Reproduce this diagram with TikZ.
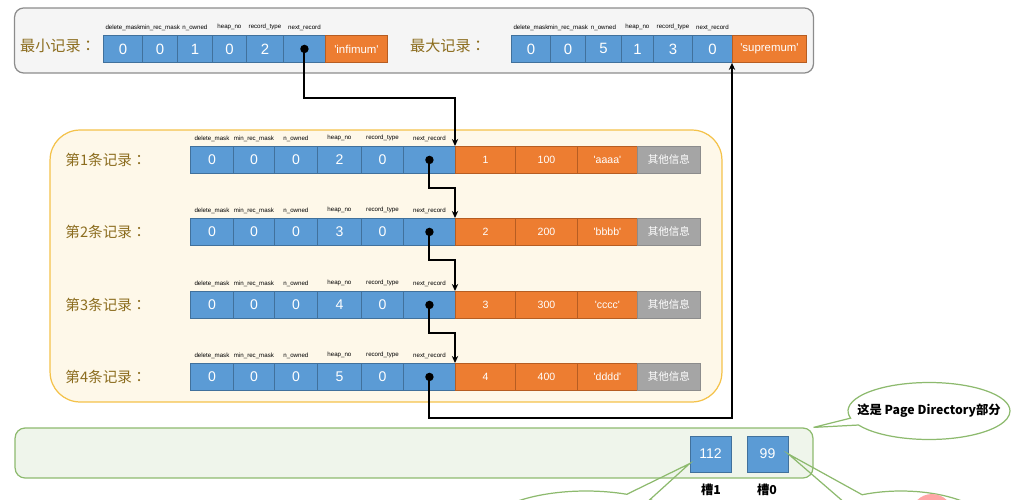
\documentclass[tikz,border=0pt]{standalone}
\usepackage{fontspec}
\setmainfont{Liberation Sans}
\newfontfamily\cjk{Noto Sans CJK SC}
\newfontfamily\cjkpunct{Noto Sans CJK TC}
\usetikzlibrary{arrows.meta,shapes.callouts}

\definecolor{cellblue}{HTML}{5B9BD5}
\definecolor{cellblueline}{HTML}{41719C}
\definecolor{cellorange}{HTML}{ED7D31}
\definecolor{cellorangeline}{HTML}{B65D22}
\definecolor{cellgray}{HTML}{A5A5A5}
\definecolor{cellgrayline}{HTML}{8C8C8C}
\definecolor{labelgold}{HTML}{8C6D1F}
\definecolor{dirgreen}{HTML}{8DBA6E}
\definecolor{recyellow}{HTML}{F4C24A}

\tikzset{
  field/.style={anchor=north west, inner sep=0pt, minimum height=0.54cm, text=white, line width=0.5pt},
  bluefield/.style={field, draw=cellblueline, fill=cellblue, font=\fontsize{8}{9}\selectfont},
  orangefield/.style={field, draw=cellorangeline, fill=cellorange, font=\fontsize{6}{7}\selectfont},
  grayfield/.style={field, draw=cellgrayline, fill=cellgray, font=\cjk\fontsize{6}{7}\selectfont},
  fieldname/.style={anchor=south, inner sep=0pt, yshift=2.5pt, font=\fontsize{3.5}{4}\selectfont},
  reclabel/.style={text=labelgold, inner sep=0pt, font=\cjk\fontsize{8.3}{10}\selectfont},
  link/.style={line width=1.1pt, -{Stealth[length=4pt,width=3.6pt]}},
  dirnote/.style={ellipse callout, draw=dirgreen, line width=0.7pt, inner sep=0pt},
}

\begin{document}
\begin{tikzpicture}[x=0.02cm, y=-0.02cm]
  \useasboundingbox (0,0) rectangle (1011,500);
  \clip (0,0) rectangle (1011,500);

  \node[draw=black!45, fill=black!4, rounded corners=0.18cm, line width=0.7pt, minimum width=15.98cm, minimum height=1.3cm] (limits) at (414,40.5) {};
  \node[reclabel, font=\cjk\fontsize{8.6}{10}\selectfont] (minlabel) at (58,46) {最小记录{\cjkpunct ：}};
  \node[reclabel, font=\cjk\fontsize{8.6}{10}\selectfont] (maxlabel) at (448,46) {最大记录{\cjkpunct ：}};
  \foreach \i/\x/\w/\t/\f in {1/103/39/0/delete\_mask, 2/142/35/0/min\_rec\_mask, 3/177/35/1/n\_owned, 4/212/34/0/heap\_no, 5/246/37/2/record\_type, 6/283/42/{}/next\_record} {
    \node[bluefield, font=\fontsize{8.5}{9}\selectfont, minimum width=\w*0.02cm] (min-\i) at (\x,35) {\t};
    \node[fieldname] (minhead-\i) at (min-\i.north) {\f};
  }
  \node[orangefield, font=\fontsize{6.5}{7}\selectfont, minimum width=1.24cm] (min-7) at (325,35) {\textquotesingle infimum\textquotesingle};
  \foreach \i/\x/\w/\t/\f in {1/511/39/0/delete\_mask, 2/550/35/0/min\_rec\_mask, 3/585/36/5/n\_owned, 4/621/32/1/heap\_no, 5/653/39/3/record\_type, 6/692/40/0/next\_record} {
    \node[bluefield, font=\fontsize{8.5}{9}\selectfont, minimum width=\w*0.02cm] (max-\i) at (\x,35) {\t};
    \node[fieldname] (maxhead-\i) at (max-\i.north) {\f};
  }
  \node[orangefield, font=\fontsize{6.5}{7}\selectfont, minimum width=1.48cm] (max-7) at (732,35) {\textquotesingle supremum\textquotesingle};

  \node[draw=recyellow, fill=recyellow!12, rounded corners=0.6cm, line width=0.7pt, minimum width=13.44cm, minimum height=5.44cm] (userrecs) at (386,266) {};
  \foreach \n/\y/\h/\v/\s in {1/146/2/100/aaaa, 2/218/3/200/bbbb, 3/291/4/300/cccc, 4/363/5/400/dddd} {
    \node[reclabel] (label-\n) at (106,\y+14) {第\n{}条记录{\cjkpunct ：}};
    \foreach \i/\x/\w/\t/\f in {1/190/43/0/delete\_mask, 2/233/41/0/min\_rec\_mask, 3/274/43/0/n\_owned, 4/317/44/\h/heap\_no, 5/361/42/0/record\_type, 6/403/52/{}/next\_record} {
      \node[bluefield, minimum width=\w*0.02cm] (rec\n-\i) at (\x,\y) {\t};
      \node[fieldname] (head\n-\i) at (rec\n-\i.north) {\f};
    }
    \node[orangefield, minimum width=1.2cm] (rec\n-7) at (455,\y) {\n};
    \node[orangefield, minimum width=1.24cm] (rec\n-8) at (515,\y) {\v};
    \node[orangefield, minimum width=1.2cm] (rec\n-9) at (577,\y) {\textquotesingle\s\textquotesingle};
    \node[grayfield, minimum width=1.26cm] (rec\n-10) at (637,\y) {其他信息};
  }

  \draw[link] (min-6.center) -- ++(0,49.5) -| (rec1-7.north west);
  \foreach \n/\m in {1/2, 2/3, 3/4}
    \draw[link] (rec\n-6.center) -- ++(0,28.5) -| (rec\m-7.north west);
  \draw[link] (rec4-6.center) -- ++(0,41.5) -| (max-7.south west);
  \foreach \d in {min-6, rec1-6, rec2-6, rec3-6, rec4-6}
    \fill (\d.center) circle (2.4pt);

  \node[draw=dirgreen, fill=dirgreen!14, rounded corners=0.2cm, line width=0.7pt, minimum width=15.96cm, minimum height=1cm] (pagedir) at (414,453) {};
  \node[draw=cellblueline, fill=cellblue, text=white, inner sep=0pt, minimum width=0.82cm, minimum height=0.72cm, font=\fontsize{8}{9}\selectfont] (slot1) at (710.5,454) {112};
  \node[draw=cellblueline, fill=cellblue, text=white, inner sep=0pt, minimum width=0.82cm, minimum height=0.72cm, font=\fontsize{8}{9}\selectfont] (slot0) at (767.5,454) {99};
  \node[font=\cjk\bfseries\fontsize{7}{8}\selectfont] (slot1name) at (711,490) {槽1};
  \node[font=\cjk\bfseries\fontsize{7}{8}\selectfont] (slot0name) at (767,490) {槽0};

  \node[dirnote, fill=white, minimum width=3.24cm, minimum height=1.14cm, callout absolute pointer={(pagedir.north east)}] (dirnote) at (929,411) {};
  \node[font=\cjk\bfseries\fontsize{7}{8.5}\selectfont] (dirtext) at (dirnote.center) {这是 Page Directory部分};
  \node[dirnote, minimum width=4.12cm, minimum height=1.6cm, callout absolute pointer={([yshift=5pt]slot1.south west)}] (slot1note) at (586,531) {};
  \node[dirnote, minimum width=3.68cm, minimum height=1.6cm, callout absolute pointer={(slot0.east)}] (slot0note) at (901,531) {};
  \node[circle, fill=red!35, inner sep=0pt, minimum size=0.84cm] (mark) at (932,515) {};
\end{tikzpicture}
\end{document}
